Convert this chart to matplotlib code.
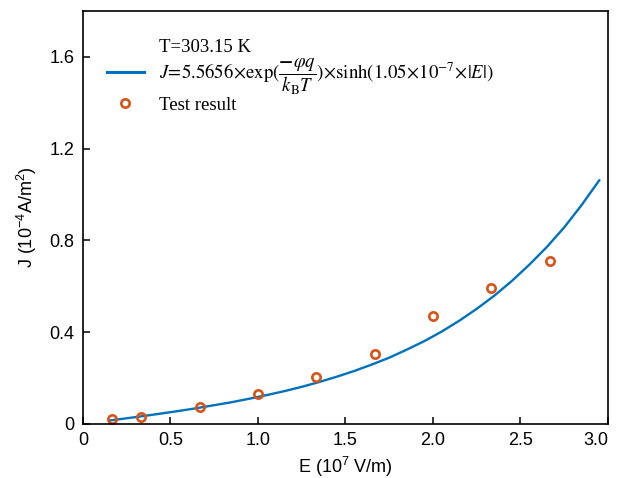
import numpy as np
import matplotlib
matplotlib.use('Agg')
import matplotlib.pyplot as plt
from matplotlib.lines import Line2D

# measured test points (E in 10^7 V/m, J in 10^-4 A/m^2)
e_test = [0.167, 0.333, 0.667, 1.0, 1.333, 1.667, 2.0, 2.333, 2.667]
j_test = [0.022, 0.032, 0.074, 0.129, 0.205, 0.307, 0.470, 0.594, 0.712]

# fitted curve
e_fit = [0.15, 0.25, 0.35, 0.45, 0.55, 0.65, 0.75, 0.85, 0.95, 1.05,
         1.15, 1.25, 1.35, 1.45, 1.55, 1.65, 1.75, 1.85, 1.95, 2.05,
         2.15, 2.25, 2.35, 2.45, 2.55, 2.65, 2.75, 2.85, 2.95]
j_fit = [0.015, 0.025, 0.035, 0.046, 0.057, 0.069, 0.082, 0.095, 0.110, 0.126,
         0.143, 0.162, 0.183, 0.206, 0.231, 0.259, 0.289, 0.324, 0.361, 0.403,
         0.450, 0.502, 0.559, 0.623, 0.694, 0.771, 0.857, 0.955, 1.062]

x_ticks = [0, 0.5, 1.0, 1.5, 2.0, 2.5, 3.0]
x_labels = ['0', '0.5', '1.0', '1.5', '2.0', '2.5', '3.0']
y_ticks = [0, 0.4, 0.8, 1.2, 1.6]
y_labels = ['0', '0.4', '0.8', '1.2', '1.6']

plt.rcParams['font.family'] = ['Liberation Sans', 'DejaVu Sans']
plt.rcParams['mathtext.fontset'] = 'stix'

fig = plt.figure(figsize=(6.22, 4.78), dpi=100)
ax = fig.add_axes([0.1334, 0.113, 0.8441, 0.864])

blue = '#0072BD'
orange = '#D95319'

ax.plot(e_fit, j_fit, color=blue, linewidth=1.7)
ax.plot(e_test, j_test, linestyle='none', marker='o', markersize=6,
        markerfacecolor='none', markeredgecolor=orange, markeredgewidth=1.9)

ax.set_xlim(0, 3.0)
ax.set_ylim(0, 1.8)
ax.set_xticks(x_ticks)
ax.set_xticklabels(x_labels)
ax.set_yticks(y_ticks)
ax.set_yticklabels(y_labels)
ax.tick_params(direction='in', length=5, width=1.1, labelsize=13, pad=6)
ax.get_xticklabels()[-1].set_horizontalalignment('right')
for s in ax.spines.values():
    s.set_linewidth(1.2)

ax.set_xlabel(r'E (10$\mathregular{^7}$ V/m)', fontsize=13, labelpad=4)
ax.set_ylabel(r'J (10$\mathregular{^{-4}}$A/m$\mathregular{^2}$)', fontsize=13, labelpad=8)

formula = (r'$J\!=\!5.5656\!\times\!\mathrm{exp}(\dfrac{\mathbf{-}\varphi q}{k_{\mathrm{B}}T})'
           r'\!\times\!\mathrm{sinh}(1.05\!\times\!10^{-7}\!\times\!\left|E\right|)$')
handles = [Line2D([], [], color='none'),
           Line2D([], [], color=blue, linewidth=2.2),
           Line2D([], [], linestyle='none', marker='o', markersize=6,
                  markerfacecolor='none', markeredgecolor=orange, markeredgewidth=1.9)]
labels = ['T=303.15 K', formula, 'Test result']
ax.legend(handles, labels, loc='upper left', bbox_to_anchor=(0.027, 0.955),
          frameon=False, borderpad=0, handlelength=2.0, handletextpad=0.8,
          labelspacing=0.0, prop={'family': 'Liberation Serif', 'size': 13.5})

fig.savefig('out.png', dpi=100)
